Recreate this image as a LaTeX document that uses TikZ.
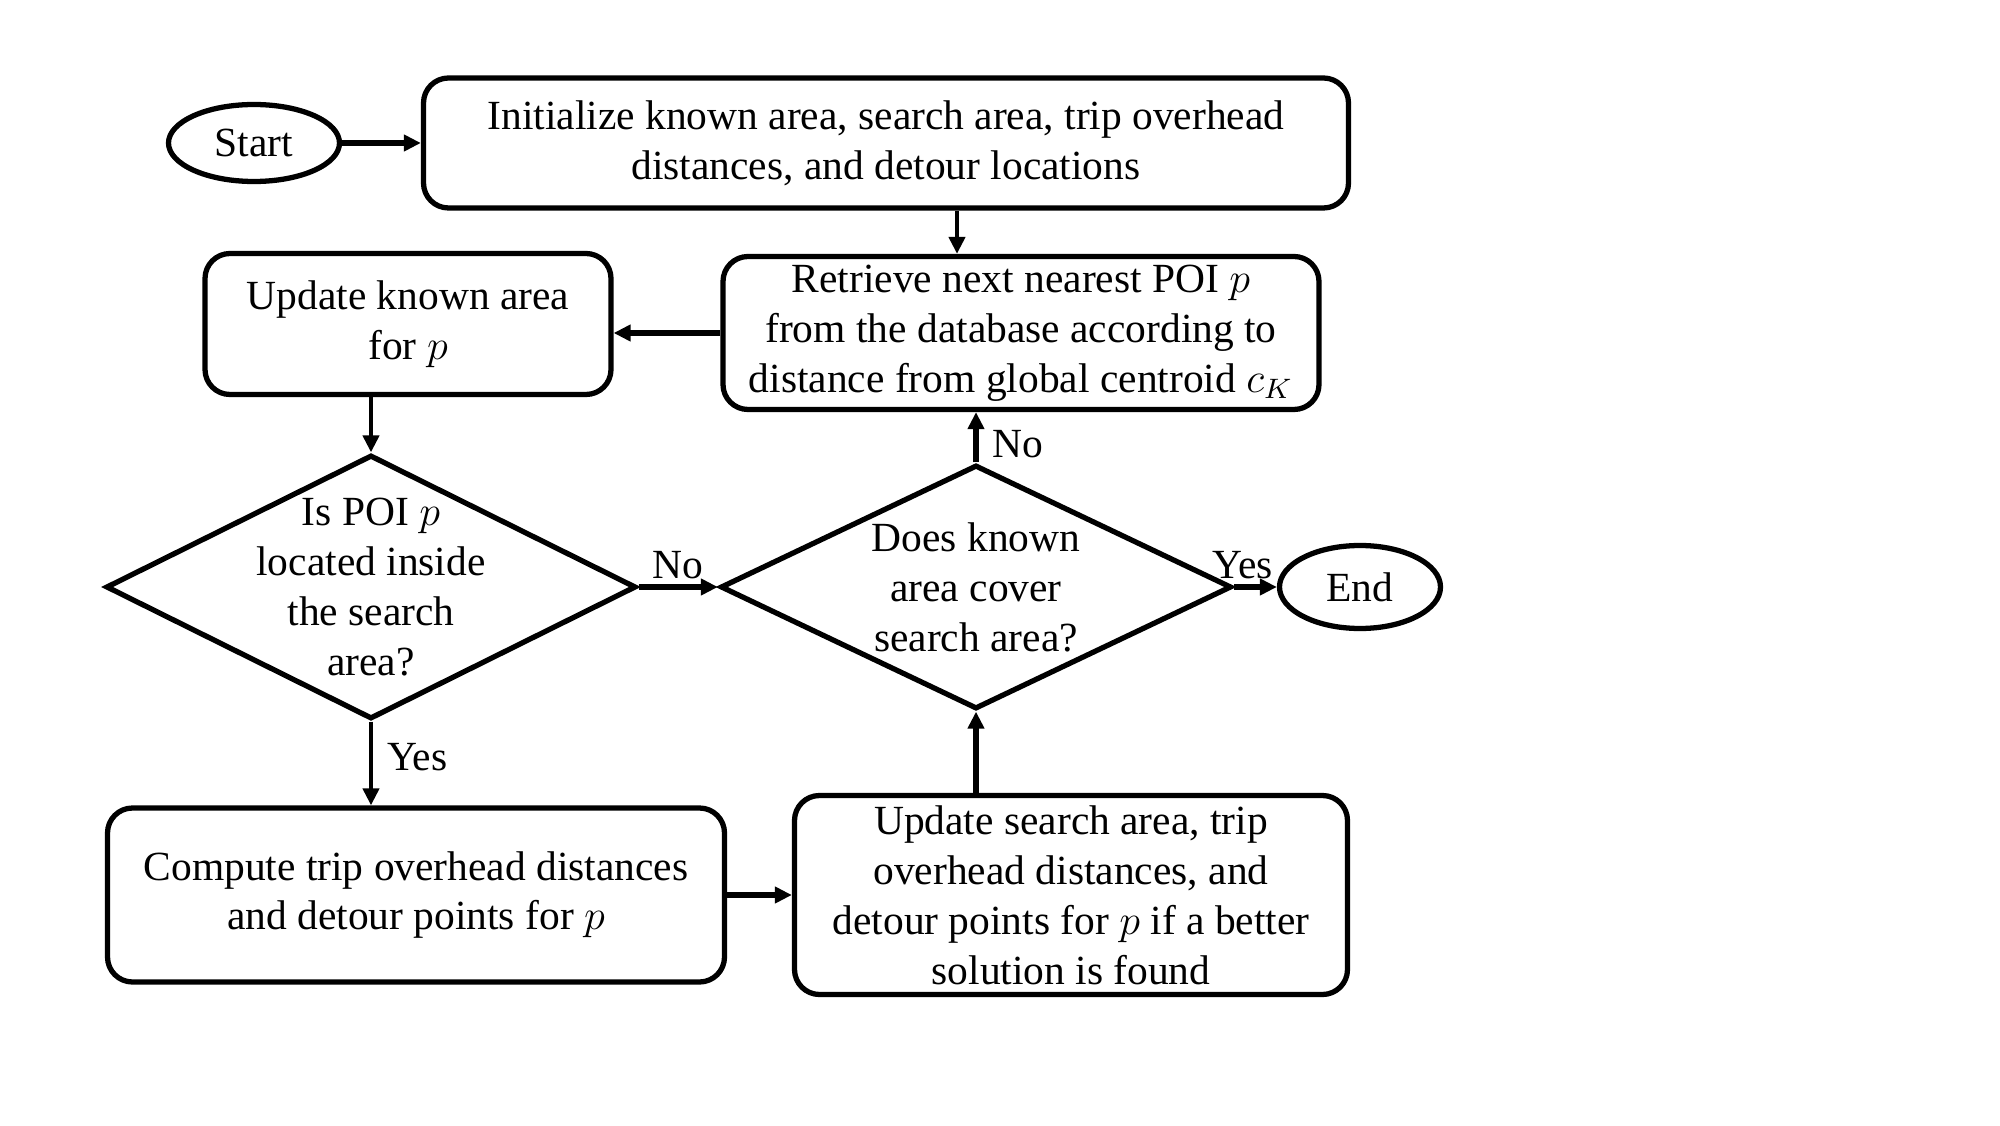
\documentclass[tikz,border=0pt]{standalone}
\usepackage{fontspec}
\setmainfont{Liberation Serif}
\usepackage{tikz}
\usetikzlibrary{arrows.meta,positioning,shapes.geometric}

\tikzset{
  process/.style={draw,line width=1.5pt,rounded corners=2.5mm,align=center,inner sep=0pt},
  terminal/.style={draw,ellipse,line width=1.5pt,inner sep=0pt},
  decision/.style={draw,diamond,line width=1.5pt,inner sep=0pt},
  txt/.style={align=center,inner sep=0pt},
  thickarrow/.style={line width=1.8pt},
  lbl/.style={inner xsep=4pt,inner ysep=1.5pt}
}

\begin{document}
\begin{tikzpicture}[node distance=2cm,on grid,auto,
    >={Triangle[length=1.7mm,width=1.6mm]},line width=1.2pt,
    font=\fontsize{11.8}{14.2}\selectfont]
   \useasboundingbox (0,0) rectangle (20,11.25);

   \node[terminal,minimum width=1.71cm,minimum height=0.77cm] (start) at (2.54,9.82) {Start};
   \node[process,minimum width=9.25cm,minimum height=1.30cm] (init) [right=6.32cm of start]
      {Initialize known area, search area, trip overhead\\distances, and detour locations};
   \node[process,minimum width=5.96cm,minimum height=1.53cm] (retr) [below right=1.90cm and 1.35cm of init]
      {Retrieve next nearest POI $p$\\from the database according to\\distance from global centroid $c_K$};
   \node[process,minimum width=4.06cm,minimum height=1.41cm] (updk) [above left=0.09cm and 6.13cm of retr]
      {Update known area\\for $p$};

   \node[decision,minimum width=5.30cm,minimum height=2.64cm] (q1) [below left=2.63cm and 0.37cm of updk] {};
   \node[txt] (q1txt) at (q1) {Is POI $p$\\located inside\\the search\\area?};
   \node[decision,minimum width=5.11cm,minimum height=2.44cm] (q2) [right=6.05cm of q1] {};
   \node[txt] (q2txt) at (q2) {Does known\\area cover\\search area?};
   \node[terminal,minimum width=1.61cm,minimum height=0.83cm] (stop) [right=3.84cm of q2] {End};

   \node[process,minimum width=6.17cm,minimum height=1.74cm] (comp) [below right=3.08cm and 0.45cm of q1]
      {Compute trip overhead distances\\and detour points for $p$};
   \node[process,minimum width=5.53cm,minimum height=1.99cm] (upds) [right=6.55cm of comp]
      {Update search area, trip\\overhead distances, and\\detour points for $p$ if a better\\solution is found};

   \path[->]
    (start) edge[thickarrow] (init)
    ([xshift=-6.4mm]retr.north |- init.south) edge ([xshift=-6.4mm]retr.north)
    (retr.west) edge[thickarrow] (retr.west -| updk.east)
    (q1.north |- updk.south) edge (q1.north)
    (q1) edge[thickarrow] node[lbl] {No} (q2)
    (q1.south) edge node[lbl,pos=0.42] {Yes} (q1.south |- comp.north)
    (comp) edge[thickarrow] (upds)
    (q2.south |- upds.north) edge[line width=1.5pt] (q2.south)
    (q2.north) edge[line width=1.5pt] node[lbl,swap,pos=0.36] {No} (q2.north |- retr.south)
    (q2) edge[thickarrow] node[lbl,pos=0.2] {Yes} (stop);
\end{tikzpicture}
\end{document}
